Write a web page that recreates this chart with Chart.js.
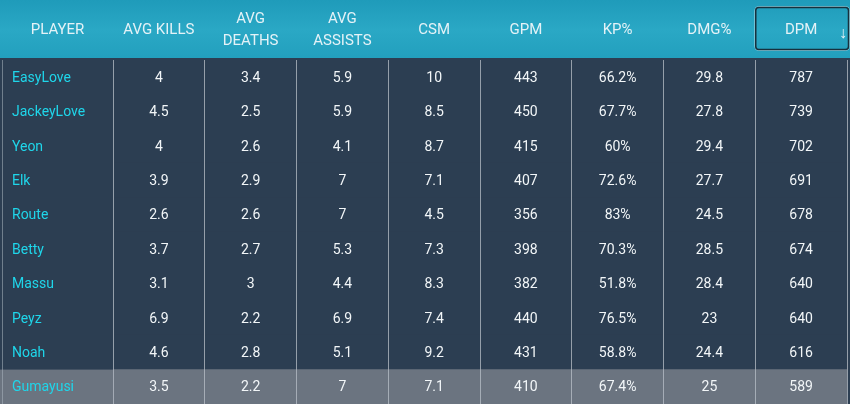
<!DOCTYPE html>
<html>
<head>
<meta charset="utf-8">
<style>
  html, body { margin: 0; padding: 0; background: #2c3e52; }
  #wrap { width: 850px; height: 404px; position: relative; }
</style>
<script src="https://cdn.jsdelivr.net/npm/chart.js@4/dist/chart.umd.min.js"></script>
</head>
<body>
<div id="wrap"><canvas id="table"></canvas></div>
<script>
// Table data
const headers = ['PLAYER', 'AVG KILLS', ['AVG', 'DEATHS'], ['AVG', 'ASSISTS'], 'CSM', 'GPM', 'KP%', 'DMG%', 'DPM'];
const players = ['EasyLove', 'JackeyLove', 'Yeon', 'Elk', 'Route', 'Betty', 'Massu', 'Peyz', 'Noah', 'Gumayusi'];
const avgKills = [4, 4.5, 4, 3.9, 2.6, 3.7, 3.1, 6.9, 4.6, 3.5];
const avgDeaths = [3.4, 2.5, 2.6, 2.9, 2.6, 2.7, 3, 2.2, 2.8, 2.2];
const avgAssists = [5.9, 5.9, 4.1, 7, 7, 5.3, 4.4, 6.9, 5.1, 7];
const csm = [10, 8.5, 8.7, 7.1, 4.5, 7.3, 8.3, 7.4, 9.2, 7.1];
const gpm = [443, 450, 415, 407, 356, 398, 382, 440, 431, 410];
const kpPct = [66.2, 67.7, 60, 72.6, 83, 70.3, 51.8, 76.5, 58.8, 67.4];
const dmgPct = [29.8, 27.8, 29.4, 27.7, 24.5, 28.5, 28.4, 23, 24.4, 25];
const dpm = [787, 739, 702, 691, 678, 674, 640, 640, 616, 589];
const highlightedPlayer = 'Gumayusi';
const sortedColumn = 'DPM';

const statColumns = [
    { values: avgKills },
    { values: avgDeaths },
    { values: avgAssists },
    { values: csm },
    { values: gpm },
    { values: kpPct, suffix: '%' },
    { values: dmgPct },
    { values: dpm }
];

const BODY_BG = '#2c3e52';
const HIGHLIGHT_BG = '#6b7480';
const FONT = 'Roboto, "Noto Sans", sans-serif';

// one floating bar per cell, the column index is the bar's span on x
const datasets = statColumns.map((col, i) => ({
    label: Array.isArray(headers[i + 1]) ? headers[i + 1].join(' ') : headers[i + 1],
    data: players.map(() => [i, i + 1]),
    backgroundColor: players.map(p => p === highlightedPlayer ? HIGHLIGHT_BG : BODY_BG),
    borderWidth: 0,
    barPercentage: 1,
    categoryPercentage: 1,
    grouped: false
}));

// header band, row highlight in player column, outer left line
const backdropPlugin = {
    id: 'backdrop',
    beforeDraw(chart) {
        const { ctx, width, chartArea } = chart;
        ctx.save();
        ctx.fillStyle = BODY_BG;
        ctx.fillRect(0, 0, width, chart.height);
        const g = ctx.createLinearGradient(0, 0, 0, chartArea.top);
        g.addColorStop(0, '#1f9bba');
        g.addColorStop(0.5, '#2aa8c5');
        g.addColorStop(1, '#229fbd');
        ctx.fillStyle = g;
        ctx.fillRect(0, 0, width, chartArea.top - 2);
        ctx.restore();
    },
    beforeDatasetsDraw(chart) {
        const { ctx, chartArea } = chart;
        const y = chart.scales.y;
        const idx = players.indexOf(highlightedPlayer);
        if (idx < 0) return;
        const half = (y.getPixelForValue(1) - y.getPixelForValue(0)) / 2;
        const cy = y.getPixelForValue(idx);
        ctx.save();
        ctx.fillStyle = HIGHLIGHT_BG;
        ctx.fillRect(0, cy - half, chartArea.left, half * 2);
        ctx.strokeStyle = 'rgba(170,180,190,0.55)';
        ctx.lineWidth = 1;
        ctx.beginPath();
        ctx.moveTo(2.5, chartArea.top);
        ctx.lineTo(2.5, chartArea.bottom);
        ctx.stroke();
        ctx.restore();
    }
};

// player names, cell values and header labels
const textPlugin = {
    id: 'cellText',
    afterDatasetsDraw(chart) {
        const { ctx, chartArea } = chart;
        const x = chart.scales.x;
        const y = chart.scales.y;
        ctx.save();
        ctx.textBaseline = 'middle';
        ctx.font = '14px ' + FONT;

        ctx.textAlign = 'left';
        ctx.fillStyle = '#1fd6ea';
        players.forEach((p, j) => {
            ctx.fillText(p, 12, y.getPixelForValue(j) + 1);
        });

        ctx.textAlign = 'center';
        ctx.fillStyle = '#f2f6f8';
        statColumns.forEach((col, i) => {
            const cx = x.getPixelForValue(i + 0.5);
            col.values.forEach((v, j) => {
                ctx.fillText(v + (col.suffix || ''), cx, y.getPixelForValue(j) + 1);
            });
        });

        // header
        const headMid = chartArea.top / 2;
        ctx.font = '15px ' + FONT;
        ctx.fillStyle = '#e4f2f7';
        headers.forEach((h, i) => {
            const cx = i === 0 ? chartArea.left / 2 + 1 : x.getPixelForValue(i - 0.5);
            if (Array.isArray(h)) {
                ctx.fillText(h[0], cx, headMid - 11);
                ctx.fillText(h[1], cx, headMid + 11);
            } else {
                ctx.fillText(h, cx, headMid);
            }
        });

        // sorted column marker
        const si = headers.indexOf(sortedColumn);
        if (si > 0) {
            const x0 = x.getPixelForValue(si - 1);
            const x1 = chart.width - 1;
            const bx = x0 + 0.5, by = 7.5, bw = x1 - x0 - 1, bh = 42;
            ctx.strokeStyle = 'rgba(220,235,240,0.55)';
            ctx.lineWidth = 1;
            ctx.beginPath();
            ctx.roundRect(bx - 1, by - 1, bw + 2, bh + 2, 4);
            ctx.stroke();
            ctx.strokeStyle = '#17303d';
            ctx.lineWidth = 1.5;
            ctx.beginPath();
            ctx.roundRect(bx, by, bw, bh, 3);
            ctx.stroke();
            ctx.font = '16px ' + FONT;
            ctx.fillStyle = '#e4f2f7';
            ctx.fillText('\u2193', x1 - 6, headMid + 4);
        }
        ctx.restore();
    }
};

new Chart(document.getElementById('table'), {
    type: 'bar',
    data: { labels: players, datasets: datasets },
    options: {
        indexAxis: 'y',
        responsive: true,
        maintainAspectRatio: false,
        animation: false,
        events: [],
        layout: { padding: { left: 12, right: 3, top: 0, bottom: 0 } },
        plugins: { legend: { display: false }, tooltip: { enabled: false } },
        scales: {
            x: {
                type: 'linear',
                position: 'top',
                min: 0,
                max: statColumns.length,
                ticks: { display: false, stepSize: 1 },
                grid: { color: 'rgba(185,192,200,0.75)', drawTicks: false, z: 1 },
                border: { display: false },
                afterFit: s => { s.height = 60; }
            },
            y: {
                type: 'category',
                position: 'left',
                grid: { display: false },
                border: { display: false },
                ticks: { display: false },
                afterFit: s => { s.width = 101; }
            }
        }
    },
    plugins: [backdropPlugin, textPlugin]
});
</script>
</body>
</html>
